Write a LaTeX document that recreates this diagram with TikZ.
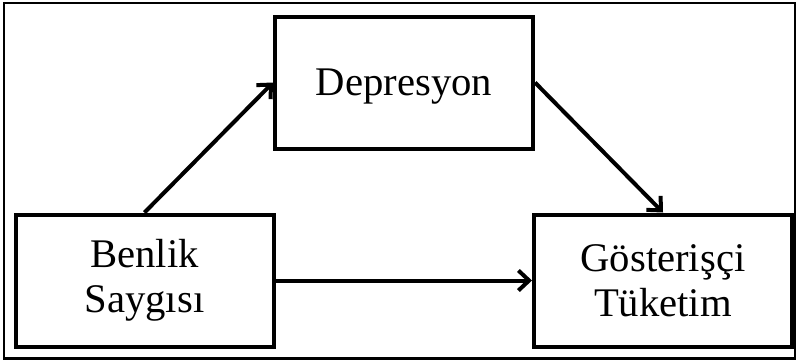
\documentclass[tikz,border=0pt]{standalone}
\usepackage{fontspec}
\setmainfont{Liberation Serif}
\usetikzlibrary{arrows.meta}
\begin{document}
\begin{tikzpicture}[x=0.75pt,y=-0.75pt,
  varbox/.style={draw, line width=3pt, minimum width=193.5pt, minimum height=99pt,
    align=center, inner sep=0pt, font=\fontsize{30.5}{33.75}\selectfont},
  link/.style={line width=3pt, -{Straight Barb[length=8pt,width=15pt,line width=3pt]}}]
\useasboundingbox (0,0) rectangle (798,362);
\draw[line width=1.8pt] (4,3) rectangle (795,358.5);
\node[varbox] (ben) at (144.5,280.5) {Benlik\\Saygısı};
\node[varbox, text depth=0pt] (dep) at (404,82.5) {Depresyon};
\node[varbox] (gos) at (663,280.5) {Gösterişçi\\Tüketim};
\draw[link] (ben.north) -- (dep.west);
\draw[link] (dep.east) -- (gos.north);
\draw[link] (ben.east) -- (gos.west);
\end{tikzpicture}
\end{document}
